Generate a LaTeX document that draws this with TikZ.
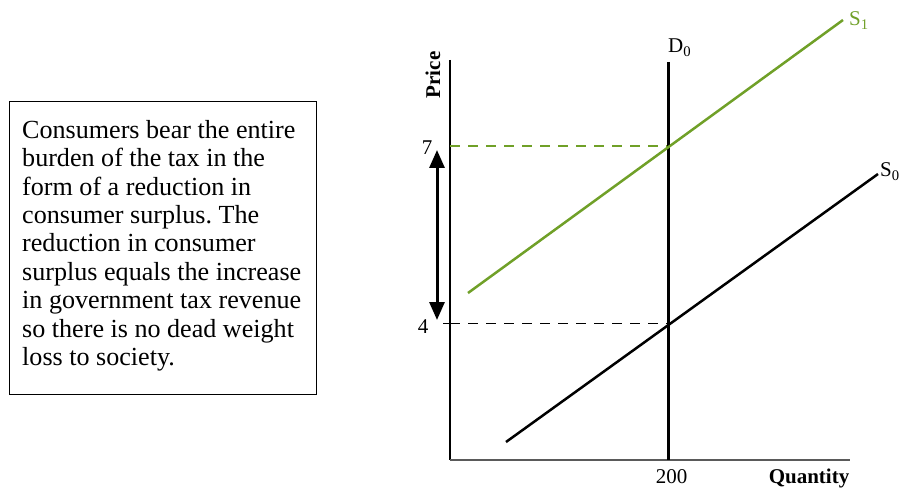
\documentclass[tikz,border=0pt]{standalone}
\usepackage{fontspec}
\setmainfont{Liberation Serif}
\usetikzlibrary{arrows.meta}
\definecolor{sgreen}{RGB}{112,160,40}
\definecolor{axgray}{RGB}{90,90,90}
\frenchspacing
\begin{document}
\begin{tikzpicture}[x=1pt,y=-1pt,
  lbl/.style={font=\fontsize{21}{24}\selectfont, inner sep=0},
  guide/.style={dash pattern=on 10pt off 8pt, line width=1.4pt},
  curve/.style={line width=2.5pt}]
\useasboundingbox (0,0) rectangle (904,489);
% text box
\node[draw, line width=1pt, minimum width=307pt, minimum height=293pt, anchor=north west, inner sep=0] (box) at (9,101) {};
\node[anchor=north west, inner sep=0, align=left, font=\fontsize{26.1}{28.4}\selectfont] (txt) at (22,120)
 {Consumers bear the entire\\burden of the tax in the\\form of a reduction in\\consumer surplus. The\\reduction in consumer\\surplus equals the increase\\in government tax revenue\\so there is no dead weight\\loss to society.};
% axes
\coordinate (O) at (450,460);
\coordinate (ytop) at (450,60);
\coordinate (xend) at (850,460);
\draw[line width=1.2pt] (ytop) -- (O);
\draw[line width=2pt, axgray] (O) -- (xend);
% dashed guides
\coordinate (p7) at (450,146);
\coordinate (e7) at (668,146);
\coordinate (t4) at (443,323);
\coordinate (p4) at (450,323);
\coordinate (e4) at (668,323);
\draw[line width=1pt] (t4) -- (p4);
\draw[guide, sgreen] (p7) -- (e7);
\draw[guide, line width=0.9pt] (p4) -- (e4);
% demand
\coordinate (dtop) at (668,62);
\coordinate (dbot) at (668,460);
\draw[line width=3pt] (dtop) -- (dbot);
% supply curves
\coordinate (s1a) at (468,293);
\coordinate (s1b) at (843,20);
\draw[curve, sgreen] (s1a) -- (s1b);
\coordinate (s0a) at (506,442);
\coordinate (s0b) at (878,174);
\draw[curve] (s0a) -- (s0b);
% arrow
\coordinate (atop) at (437,150);
\coordinate (abot) at (437,320);
\draw[line width=3pt, {Triangle[length=18pt,width=15pt]}-{Triangle[length=18pt,width=15pt]}] (atop) -- (abot);
% labels
\node[lbl, anchor=base] (l7) at (427,155) {7};
\node[lbl, anchor=base] (l4) at (423,333) {4};
\node[lbl, anchor=base] (l200) at (671.5,483) {200};
\node[lbl, anchor=base, font=\fontsize{21}{24}\selectfont\bfseries] (lq) at (809,483) {Quantity};
\node[lbl, anchor=base, rotate=90, font=\fontsize{21}{24}\selectfont\bfseries] (lp) at (440,75) {Price};
\node[lbl, anchor=base west] (ld) at (668,53) {D\textsubscript{0}};
\node[lbl, anchor=base west, text=sgreen] (ls1) at (849,26) {S\textsubscript{1}};
\node[lbl, anchor=base west] (ls0) at (880,177) {S\textsubscript{0}};
\end{tikzpicture}
\end{document}
